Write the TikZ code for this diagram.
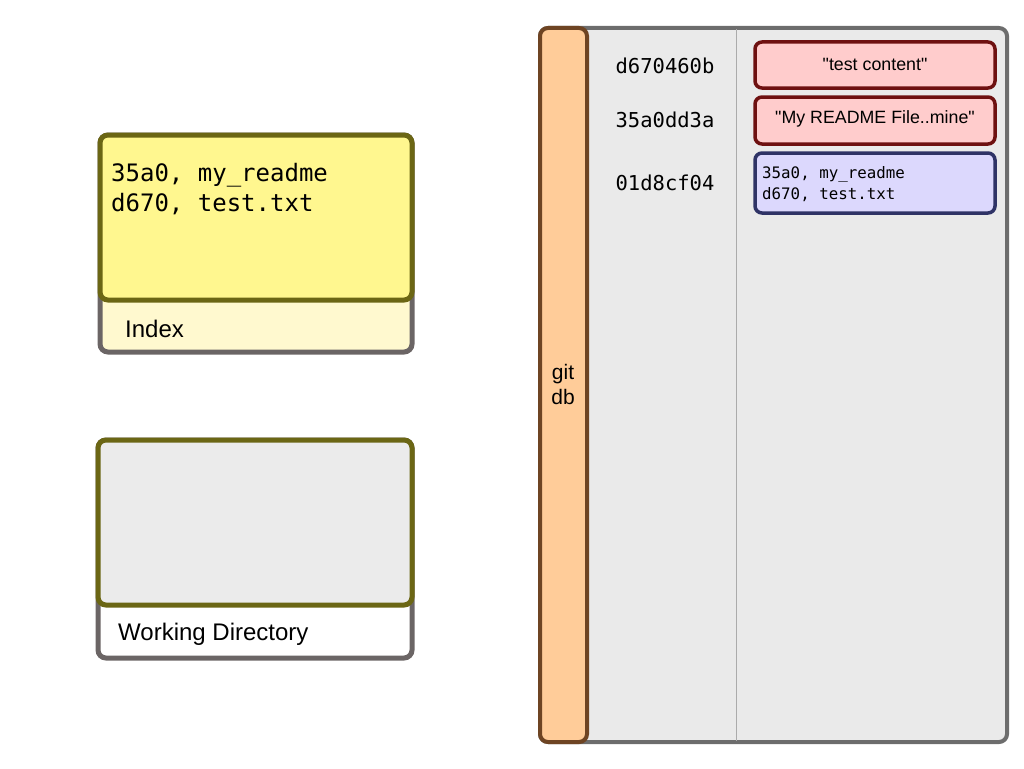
\documentclass[tikz,border=0pt]{standalone}
\usepackage{fontspec}
\setmainfont{Liberation Sans}
\setmonofont{DejaVu Sans Mono}
\definecolor{olivedge}{HTML}{6B6614}
\definecolor{grayedge}{HTML}{6B6565}
\definecolor{idxyellow}{HTML}{FFF78F}
\definecolor{idxpale}{HTML}{FFF9CF}
\definecolor{wdgray}{HTML}{EBEBEB}
\definecolor{dbgray}{HTML}{EAEAEA}
\definecolor{dbedge}{HTML}{6D6D6D}
\definecolor{barorange}{HTML}{FFCC99}
\definecolor{barbrown}{HTML}{6E4423}
\definecolor{blobred}{HTML}{FFCCCC}
\definecolor{blobedge}{HTML}{6E1010}
\definecolor{treeblue}{HTML}{DCD8FD}
\definecolor{treeedge}{HTML}{2F3366}
\begin{document}
\begin{tikzpicture}[x=1pt,y=-1pt,
    area/.style={rounded corners=8pt, line width=5pt},
    objbox/.style={rounded corners=7pt, line width=3.5pt},
    hashlabel/.style={font=\ttfamily\fontsize{20.5}{24}\selectfont, anchor=center},
    bloblabel/.style={font=\fontsize{17.8}{20}\selectfont},
    arealabel/.style={font=\fontsize{24}{28}\selectfont, anchor=base west, inner sep=0pt}]
    \useasboundingbox (0,0) rectangle (1024,768);

    % Index
    \draw[area, grayedge, fill=idxpale] (100,135) rectangle (412,352);
    \draw[area, olivedge, fill=idxyellow] (100,135) rectangle (412,300);
    \node[anchor=north west, align=left, inner sep=0pt,
          font=\ttfamily\fontsize{24}{30}\selectfont] (idxtext) at (111,163)
        {35a0, my\_readme\\d670, test.txt};
    \node[arealabel] (idxlabel) at (125,337) {Index};

    % Working directory
    \draw[area, grayedge, fill=white] (98,440) rectangle (412,658);
    \draw[area, olivedge, fill=wdgray] (98,440) rectangle (412,605);
    \node[arealabel] (wdlabel) at (118,640) {Working Directory};

    % git database
    \draw[rounded corners=8pt, line width=4pt, dbedge, fill=dbgray] (540,28) rectangle (1007,742);
    \draw[line width=1pt, black!33] (736,29) -- (736,741);
    \draw[rounded corners=8pt, line width=4pt, barbrown, fill=barorange] (540,28) rectangle (587,742);
    \node[align=center, font=\fontsize{21}{25}\selectfont] (dblabel) at (563,384) {git\\db};

    % objects
    \node[hashlabel] (h1) at (665,66) {d670460b};
    \node[hashlabel] (h2) at (665,120) {35a0dd3a};
    \node[hashlabel] (h3) at (665,183) {01d8cf04};

    \draw[objbox, blobedge, fill=blobred] (755,42) rectangle (995,88);
    \node[bloblabel] (blob1) at (875,64) {\textquotedbl test content\textquotedbl};
    \draw[objbox, blobedge, fill=blobred] (755,97) rectangle (995,144);
    \node[bloblabel] (blob2) at (875,119) {\textquotedbl My README File..mine\textquotedbl};
    \draw[objbox, treeedge, fill=treeblue] (755,153) rectangle (995,213);
    \node[anchor=north west, align=left, inner sep=0pt,
          font=\ttfamily\fontsize{15.8}{21}\selectfont] (tree1) at (762,166)
        {35a0, my\_readme\\d670, test.txt};
\end{tikzpicture}
\end{document}
